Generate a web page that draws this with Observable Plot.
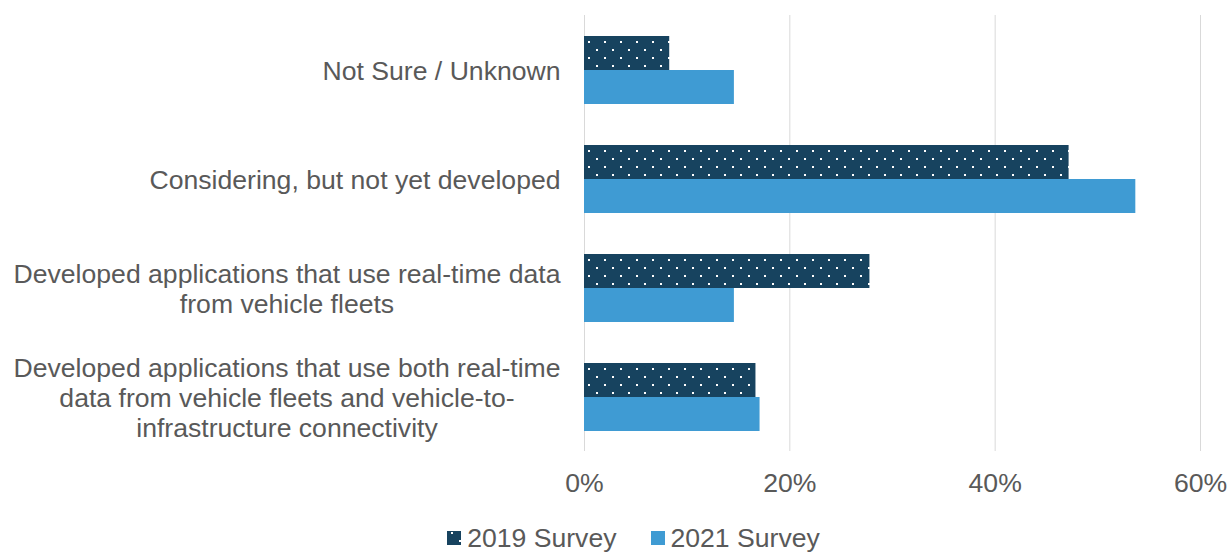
<!DOCTYPE html>
<html>
<head>
<meta charset="utf-8">
<script src="https://cdn.jsdelivr.net/npm/d3@7"></script>
<script src="https://cdn.jsdelivr.net/npm/@observablehq/plot@0.6"></script>
<style>
  html, body { margin: 0; padding: 0; background: #fff; }
  #chart { width: 1228px; height: 552px; overflow: hidden; font-family: "Liberation Sans", Arial, sans-serif; }
  .legend { display: flex; justify-content: center; padding-left: 39px; margin-top: 21px; height: 24px; line-height: 24px; font-size: 26.6px; color: #595959; }
  .legend .item { display: flex; align-items: center; margin: 0 17px; }
  .legend svg { margin-right: 6px; }
</style>
</head>
<body>
<svg width="0" height="0" style="position:absolute">
  <defs>
    <pattern id="dots" patternUnits="userSpaceOnUse" x="0" y="0" width="16" height="16">
      <rect width="16" height="16" fill="#17435f"></rect>
      <rect x="12" y="9" width="2" height="2" fill="#ffffff"></rect>
      <rect x="4" y="1" width="2" height="2" fill="#ffffff"></rect>
    </pattern>
  </defs>
</svg>
<div id="chart"></div>
<script>
const categories = [
  "Not Sure / Unknown",
  "Considering, but not yet developed",
  "Developed applications that use real-time data\nfrom vehicle fleets",
  "Developed applications that use both real-time\ndata from vehicle fleets and vehicle-to-\ninfrastructure connectivity"
];
const series = ["2019 Survey", "2021 Survey"];
const values2019 = [8.3, 47.2, 27.8, 16.7];
const values2021 = [14.6, 53.7, 14.6, 17.1];
const xTicks = [0, 20, 40, 60];
const colors = ["url(#dots)", "#3f9bd3"];

const data = [];
categories.forEach((c, i) => {
  data.push({category: c, series: series[0], value: values2019[i]});
  data.push({category: c, series: series[1], value: values2021[i]});
});

const FONT = 26.6;
const ctx = document.createElement("canvas").getContext("2d");
ctx.font = FONT + "px 'Liberation Sans'";
function maxLineWidth(s) {
  return Math.max(...s.split("\n").map(l => ctx.measureText(l).width));
}

const labelMarks = categories.map(c =>
  Plot.text([c], {
    fy: d => d,
    text: d => d,
    frameAnchor: "left",
    textAnchor: "middle",
    dx: -(24 + maxLineWidth(c) / 2),
    lineHeight: 30 / FONT,
    fill: "#595959",
    fontSize: FONT
  })
);

const chart = Plot.plot({
  width: 1228,
  height: 505,
  marginLeft: 584,
  marginRight: 28,
  marginTop: 15,
  marginBottom: 54,
  style: {fontFamily: "'Liberation Sans', Arial, sans-serif", fontSize: FONT + "px", color: "#595959", background: "#fff"},
  x: {domain: [0, 60], axis: null},
  y: {domain: series, axis: null, paddingInner: 0, paddingOuter: 0.6},
  fy: {domain: categories, axis: null, padding: 0},
  color: {type: "ordinal", domain: series, range: colors},
  marks: [
    Plot.gridX(xTicks, {stroke: "#d9d9d9", strokeOpacity: 1, strokeWidth: 1}),
    Plot.barX(data, {x: "value", y: "series", fy: "category", fill: "series"}),
    Plot.axisX({ticks: xTicks, tickFormat: d => d + "%", tickSize: 0, tickPadding: 22, fontSize: FONT, fill: "#595959", label: null}),
    ...labelMarks
  ]
});

const root = document.getElementById("chart");
root.appendChild(chart);

const legend = document.createElement("div");
legend.className = "legend";
series.forEach((s, i) => {
  const item = document.createElement("div");
  item.className = "item";
  item.innerHTML = `<svg width="14" height="14"><rect width="14" height="14" fill="${colors[i]}"></rect></svg><span>${s}</span>`;
  legend.appendChild(item);
});
root.appendChild(legend);
</script>
</body>
</html>
